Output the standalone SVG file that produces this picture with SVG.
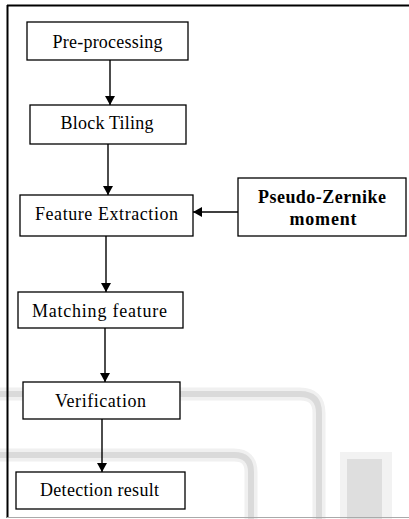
<svg xmlns="http://www.w3.org/2000/svg" width="409" height="519" viewBox="0 0 409 519">
<style>
.box{fill:#fff;stroke:#000;stroke-width:1.3}
text{font-family:'Liberation Serif','DejaVu Serif',serif;font-size:18px;fill:#000;text-anchor:middle}
.bold{font-weight:bold}
.conn line{stroke:#000;stroke-width:1.4;marker-end:url(#ah)}
.halo{fill:none;stroke:#f0f0f0;stroke-width:13}
.band{fill:none;stroke:#dadada;stroke-width:6}
</style>
<defs>
<marker id="ah" markerUnits="userSpaceOnUse" markerWidth="10" markerHeight="10" refX="9" refY="5" orient="auto">
<path d="M0,0 L9,5 L0,10 z" fill="#000"/>
</marker>
</defs>
<rect width="409" height="519" fill="#fff"/>
<g id="watermark">
<path class="halo" d="M0,394 H300 Q319,394 319,413 V519"/>
<path class="halo" d="M0,455 H234 Q251,455 251,472 V519"/>
<rect x="340" y="452" width="52" height="67" fill="#f2f2f2"/>
<path class="band" d="M0,394 H300 Q319,394 319,413 V519"/>
<path class="band" d="M0,455 H234 Q251,455 251,472 V519"/>
<rect x="347" y="459" width="35" height="60" fill="#dedede"/>
</g>
<g id="frame">
<line x1="7" y1="5.5" x2="409" y2="5.5" stroke="#000" stroke-width="2"/>
<line x1="7.5" y1="5" x2="7.5" y2="518" stroke="#000" stroke-width="2"/>
<line x1="7" y1="517.5" x2="409" y2="517.5" stroke="#aaa" stroke-width="1"/>
</g>
<g class="conn" id="connectors">
<line x1="110" y1="60" x2="110" y2="105"/>
<line x1="108" y1="144" x2="108" y2="195"/>
<line x1="238" y1="212" x2="193" y2="212"/>
<line x1="106" y1="236" x2="106" y2="292"/>
<line x1="105" y1="328" x2="105" y2="382"/>
<line x1="102" y1="419" x2="102" y2="472"/>
</g>
<g id="preprocessing"><rect class="box" x="27" y="22" width="161" height="38"/><text x="107.5" y="48" textLength="110" lengthAdjust="spacing">Pre-processing</text></g>
<g id="blocktiling"><rect class="box" x="30" y="105" width="156" height="39"/><text x="107" y="129" textLength="93" lengthAdjust="spacing">Block Tiling</text></g>
<g id="featureextraction"><rect class="box" x="20" y="195" width="173" height="41"/><text x="106.5" y="220" textLength="143" lengthAdjust="spacing">Feature Extraction</text></g>
<g id="pseudozernike"><rect class="box" x="238" y="178" width="168" height="58"/><text class="bold" x="322" y="203" textLength="128" lengthAdjust="spacing">Pseudo-Zernike</text><text class="bold" x="323" y="225" textLength="67" lengthAdjust="spacing">moment</text></g>
<g id="matching"><rect class="box" x="18" y="292" width="165" height="36"/><text x="99.5" y="317" textLength="135" lengthAdjust="spacing">Matching feature</text></g>
<g id="verification"><rect class="box" x="23" y="382" width="157" height="37"/><text x="100.5" y="407" textLength="91" lengthAdjust="spacing">Verification</text></g>
<g id="detection"><rect class="box" x="16" y="472" width="169" height="37"/><text x="99.5" y="496" textLength="119" lengthAdjust="spacing">Detection result</text></g>
</svg>
